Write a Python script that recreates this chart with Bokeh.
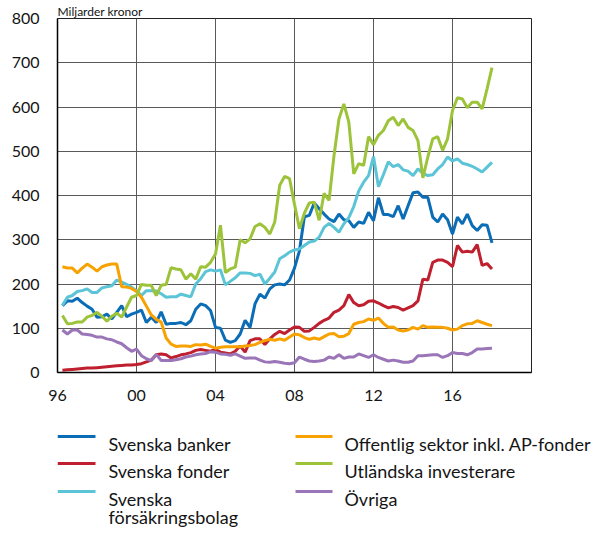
from bokeh.plotting import figure
from bokeh.models import Range1d, FixedTicker
from bokeh.layouts import column
from bokeh.embed import file_html
from bokeh.resources import INLINE
from bokeh.core.properties import value

# Quarterly observations, 1996Q1 .. 2017Q4 (plotted at quarter end)
years = [1996.25 + 0.25 * i for i in range(88)]

svenska_banker = [151, 162, 161, 168, 158, 150, 143, 125,
                  126, 132, 121, 136, 151, 126, 132, 136,
                  141, 113, 125, 113, 137, 109, 111, 111,
                  113, 108, 117, 143, 155, 151, 140, 102,
                  100, 73, 68, 72, 87, 118, 102, 155,
                  177, 168, 189, 198, 200, 198, 209, 236,
                  275, 352, 355, 383, 370, 358, 347, 341,
                  358, 345, 343, 328, 340, 337, 362, 343,
                  395, 357, 357, 352, 377, 347, 377, 406,
                  408, 396, 396, 351, 340, 358, 345, 313,
                  351, 336, 358, 332, 321, 334, 333, 293]

svenska_fonder = [5, 6, 7, 8, 9, 10, 10, 11,
                  12, 13, 14, 15, 16, 17, 17, 18,
                  20, 24, 28, 40, 42, 40, 33, 36,
                  40, 42, 45, 50, 52, 50, 48, 52,
                  46, 44, 42, 48, 60, 46, 72, 76,
                  76, 63, 76, 86, 93, 88, 96, 103,
                  102, 93, 94, 102, 111, 118, 123, 136,
                  141, 151, 176, 158, 151, 153, 161, 162,
                  157, 151, 146, 149, 147, 141, 146, 151,
                  162, 211, 209, 249, 254, 254, 249, 239,
                  287, 272, 274, 272, 289, 242, 246, 234]

svenska_forsakringsbolag = [152, 170, 174, 183, 185, 189, 181, 181,
                            191, 194, 196, 209, 204, 199, 193, 185,
                            174, 185, 185, 184, 178, 170, 171, 171,
                            177, 174, 171, 200, 212, 228, 232, 229,
                            232, 198, 206, 214, 225, 225, 224, 219,
                            222, 200, 213, 227, 257, 264, 272, 277,
                            279, 287, 295, 297, 306, 328, 337, 328,
                            317, 336, 350, 375, 410, 430, 445, 488,
                            420, 447, 476, 465, 470, 458, 455, 445,
                            460, 450, 445, 447, 460, 470, 487, 478,
                            483, 473, 470, 466, 460, 453, 464, 475]

offentlig_sektor = [239, 236, 236, 225, 236, 245, 238, 229,
                    239, 243, 245, 245, 194, 193, 190, 183,
                    170, 150, 130, 120, 114, 78, 64, 59,
                    60, 60, 59, 63, 62, 64, 59, 55,
                    57, 58, 58, 58, 58, 60, 61, 63,
                    68, 72, 75, 73, 76, 73, 80, 87,
                    85, 79, 75, 78, 75, 81, 87, 88,
                    81, 82, 88, 109, 113, 115, 121, 118,
                    123, 111, 102, 103, 96, 94, 96, 102,
                    98, 106, 102, 103, 102, 102, 100, 96,
                    98, 106, 110, 111, 117, 113, 109, 106]

utlandska_investerare = [129, 110, 111, 114, 114, 125, 129, 136,
                         127, 116, 127, 134, 125, 148, 170, 174,
                         199, 197, 197, 174, 197, 199, 237, 234,
                         232, 211, 223, 211, 239, 238, 249, 268,
                         333, 226, 234, 238, 300, 293, 302, 330,
                         336, 328, 313, 340, 423, 443, 438, 380,
                         325, 360, 383, 385, 344, 405, 389, 490,
                         573, 607, 566, 449, 472, 468, 533, 515,
                         536, 547, 569, 577, 558, 573, 554, 547,
                         524, 440, 487, 528, 533, 502, 528, 592,
                         621, 618, 598, 611, 611, 596, 641, 689]

ovriga = [96, 87, 96, 96, 87, 86, 84, 80,
          80, 76, 74, 69, 65, 56, 48, 53,
          38, 31, 27, 41, 27, 27, 27, 29,
          31, 35, 37, 40, 42, 43, 47, 46,
          42, 41, 39, 42, 37, 32, 33, 33,
          28, 24, 23, 25, 23, 21, 20, 22,
          35, 30, 26, 25, 26, 28, 35, 32,
          40, 32, 35, 35, 42, 38, 34, 40,
          34, 30, 26, 28, 26, 23, 23, 26,
          38, 38, 39, 40, 40, 34, 38, 45,
          43, 43, 40, 45, 53, 53, 54, 55]

series_names = ["Svenska banker", "Svenska fonder", "Svenska försäkringsbolag",
                "Offentlig sektor inkl. AP-fonder", "Utländska investerare", "Övriga"]
series_values = [svenska_banker, svenska_fonder, svenska_forsakringsbolag,
                 offentlig_sektor, utlandska_investerare, ovriga]
colors = ["#0a6db6", "#bf1f2e", "#5bc4d6", "#f7a200", "#9cc33a", "#9a76b9"]

x_tick_values = [1996, 2000, 2004, 2008, 2012, 2016]
x_tick_labels = ["96", "00", "04", "08", "12", "16"]
y_tick_values = [0, 100, 200, 300, 400, 500, 600, 700, 800]
unit_label = "Miljarder kronor"

FONT = "Lato"
TXT = "#141414"
MAIN_H = 18 + 354 + 48  # top border + frame + bottom border
LEG_TOP = MAIN_H + 7    # observed page position where the legend panel starts

# Main chart (page x: frame 57..531, page y: frame 18..372)
p = figure(frame_width=474, frame_height=354,
           min_border_left=57, min_border_right=2, min_border_top=18, min_border_bottom=48,
           x_range=Range1d(1996, 2020), y_range=Range1d(0, 800),
           output_backend="svg", toolbar_location=None)
p.title.text = unit_label
p.title.text_font = FONT
p.title.text_font_size = "12px"
p.title.text_font_style = "normal"
p.title.text_color = TXT
p.title.standoff = 0
p.title.align = "left"
p.background_fill_color = "white"
p.border_fill_color = "white"
p.outline_line_color = "#222222"
p.outline_line_width = 1

for vals, col in zip(series_values, colors):
    p.line(years, vals, line_color=col, line_width=3)

p.xaxis.ticker = FixedTicker(ticks=x_tick_values)
p.xaxis.major_label_overrides = {v: t for v, t in zip(x_tick_values, x_tick_labels)}
p.yaxis.ticker = FixedTicker(ticks=y_tick_values)
p.xgrid.ticker = FixedTicker(ticks=x_tick_values)
p.ygrid.ticker = FixedTicker(ticks=y_tick_values)
p.grid.grid_line_color = "#5a5a5a"
p.grid.grid_line_width = 1

for ax in (p.xaxis, p.yaxis):
    ax.axis_line_color = "black"
    ax.axis_line_width = 1.5
    ax.major_tick_in = 0
    ax.major_tick_out = 0
    ax.minor_tick_in = 0
    ax.minor_tick_out = 0
    ax.major_label_text_font = FONT
    ax.major_label_text_font_size = "16px"
    ax.major_label_text_color = TXT
p.yaxis.major_label_standoff = 18
p.xaxis.major_label_standoff = 17

# Legend panel below the chart; its frame is aligned with the chart's left border,
# so the data coordinates below equal page pixels.
lg = figure(width=593, height=534 - LEG_TOP, x_range=Range1d(57, 591),
            y_range=Range1d(534, LEG_TOP),
            min_border=0, output_backend="svg", toolbar_location=None,
            x_axis_location=None, y_axis_location=None)
lg.grid.visible = False
lg.outline_line_color = None
lg.background_fill_color = "white"
lg.border_fill_color = "white"

sw_x0 = [57, 57, 57, 295, 295, 295]
sw_x1 = [95, 95, 95, 332, 332, 332]
sw_y = [443, 470, 498, 443, 470, 498]
lg.segment(sw_x0, sw_y, sw_x1, sw_y, line_color=colors, line_width=3)

labels = ["Svenska banker", "Svenska fonder", "Svenska", "försäkringsbolag",
          series_names[3], series_names[4], series_names[5]]
lx = [108, 108, 108, 108, 344, 344, 344]
ly = [450, 477, 505, 523, 450, 477, 505]
lg.text(lx, ly, text=labels, text_font=value(FONT), text_font_size="18px",
        text_baseline="alphabetic", text_align="left", text_color=TXT)

layout = column(p, lg)
open("out.html", "w").write(file_html(layout, INLINE))
